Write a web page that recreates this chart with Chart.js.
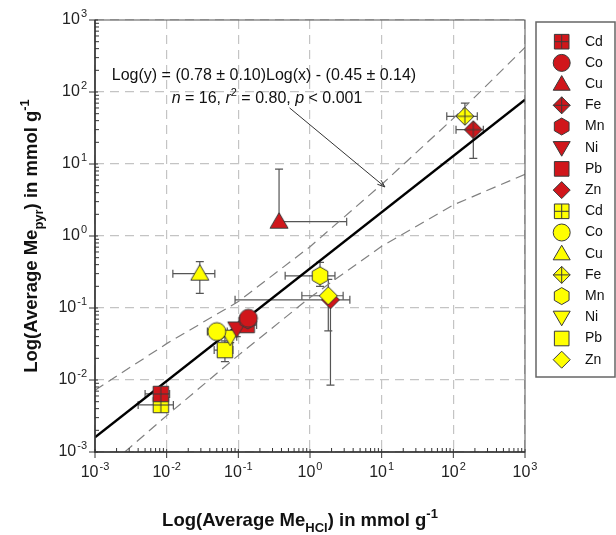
<!DOCTYPE html>
<html>
<head>
<meta charset="utf-8">
<script src="https://cdn.jsdelivr.net/npm/chart.js@4.4.1/dist/chart.umd.min.js"></script>
<style>
  html, body { margin: 0; padding: 0; background: #fff; }
  #wrap { width: 616px; height: 535px; }
</style>
</head>
<body>
<div id="wrap"><canvas id="chart" width="616" height="535"></canvas></div>
<script>
const elements = ['Cd', 'Co', 'Cu', 'Fe', 'Mn', 'Ni', 'Pb', 'Zn'];
const shapes = ['squareCross', 'circle', 'triangle', 'diamondCross', 'hexagon', 'triangleDown', 'square', 'diamond'];

// red series (x = Me_HCl, y = Me_pyr, mmol/g)
const redX   = [0.0083, 0.138, 0.37, 190, 0.135, 0.095, 0.131, 1.93];
const redY   = [0.0064, 0.072, 1.58, 30, 0.068, 0.052, 0.058, 0.13];
const redXLo = [0.005, 0.11, null, 109, null, null, 0.10, 0.09];
const redXHi = [0.011, 0.17, 3.25, 262, null, null, 0.18, 3.6];
const redYLo = [null, null, null, 12, null, 0.04, null, 0.0085];
const redYHi = [null, null, 8.5, null, null, 0.062, null, null];

// yellow series
const yelX   = [0.0083, 0.050, 0.029, 145, 1.38, 0.077, 0.065, 1.80];
const yelY   = [0.0045, 0.047, 0.30, 46, 0.28, 0.040, 0.026, 0.148];
const yelXLo = [0.004, 0.037, 0.0122, 81, 0.45, 0.065, 0.046, 0.77];
const yelXHi = [0.0124, 0.07, 0.047, 216, 2.23, 0.095, 0.084, 2.9];
const yelYLo = [null, null, 0.16, null, 0.2, 0.033, 0.018, 0.048];
const yelYHi = [null, null, 0.44, 70, 0.43, 0.048, 0.035, 0.25];

// regression line and its bands
const fitX = [0.001, 1000];
const fitY = [0.0016, 78];
const upperX = [0.001, 0.01, 0.1, 1, 10, 100, 1000];
const upperY = [0.0072, 0.032, 0.123, 0.71, 5.2, 43, 417];
const lowerX = [0.0026, 0.01, 0.1, 1, 10, 100, 1000];
const lowerY = [0.001, 0.0032, 0.022, 0.14, 0.72, 2.7, 7.2];

// arrow from the equation to the fit
const arrowFrom = { x: 0.52, y: 60 };
const arrowTo = { x: 11.1, y: 4.8 };

const decades = [-3, -2, -1, 0, 1, 2, 3];

const RED = '#d0161b';
const YELLOW = '#ffff00';
const EDGE = '#3a3a3a';
const FONT = '"Liberation Sans", Arial, sans-serif';

function shapePath(ctx, shape, cx, cy, r) {
  ctx.beginPath();
  if (shape === 'circle') {
    ctx.arc(cx, cy, r, 0, Math.PI * 2);
  } else if (shape === 'square' || shape === 'squareCross') {
    const h = r * 0.86;
    ctx.rect(cx - h, cy - h, 2 * h, 2 * h);
  } else if (shape === 'triangle') {
    ctx.moveTo(cx, cy - r);
    ctx.lineTo(cx + r, cy + r * 0.72);
    ctx.lineTo(cx - r, cy + r * 0.72);
    ctx.closePath();
  } else if (shape === 'triangleDown') {
    ctx.moveTo(cx, cy + r);
    ctx.lineTo(cx + r, cy - r * 0.72);
    ctx.lineTo(cx - r, cy - r * 0.72);
    ctx.closePath();
  } else if (shape === 'diamond' || shape === 'diamondCross') {
    ctx.moveTo(cx, cy - r);
    ctx.lineTo(cx + r, cy);
    ctx.lineTo(cx, cy + r);
    ctx.lineTo(cx - r, cy);
    ctx.closePath();
  } else if (shape === 'hexagon') {
    for (let k = 0; k < 6; k++) {
      const a = -Math.PI / 2 + k * Math.PI / 3;
      const px = cx + r * Math.cos(a), py = cy + r * Math.sin(a);
      if (k === 0) ctx.moveTo(px, py); else ctx.lineTo(px, py);
    }
    ctx.closePath();
  }
}

function drawMarker(ctx, shape, cx, cy, r, fill) {
  shapePath(ctx, shape, cx, cy, r);
  ctx.fillStyle = fill;
  ctx.fill();
  ctx.lineWidth = 1;
  ctx.strokeStyle = EDGE;
  ctx.stroke();
  if (shape === 'squareCross' || shape === 'diamondCross') {
    const h = shape === 'squareCross' ? r * 0.86 : r;
    ctx.beginPath();
    ctx.moveTo(cx - h, cy); ctx.lineTo(cx + h, cy);
    ctx.moveTo(cx, cy - h); ctx.lineTo(cx, cy + h);
    ctx.stroke();
  }
}

function markerCanvas(shape, fill, r) {
  const size = Math.ceil(r * 2 + 4);
  const c = document.createElement('canvas');
  c.width = size; c.height = size;
  drawMarker(c.getContext('2d'), shape, size / 2, size / 2, r, fill);
  return c;
}

const datasets = [];
function addSeries(xs, ys, xlo, xhi, ylo, yhi, fill, baseOrder) {
  elements.forEach((el, i) => {
    datasets.push({
      label: el,
      data: [{ x: xs[i], y: ys[i] }],
      pointStyle: markerCanvas(shapes[i], fill, 9),
      showLine: false,
      order: el === 'Zn' ? (fill === YELLOW ? 0 : 3) : baseOrder,
      errX: [xlo[i], xhi[i]],
      errY: [ylo[i], yhi[i]]
    });
  });
}
addSeries(redX, redY, redXLo, redXHi, redYLo, redYHi, RED, 1);
addSeries(yelX, yelY, yelXLo, yelXHi, yelYLo, yelYHi, YELLOW, 2);

const lineSets = [
  { data: fitX.map((x, i) => ({ x, y: fitY[i] })), borderColor: '#000', borderWidth: 2.4, borderDash: [] },
  { data: upperX.map((x, i) => ({ x, y: upperY[i] })), borderColor: '#808080', borderWidth: 1.2, borderDash: [10, 6] },
  { data: lowerX.map((x, i) => ({ x, y: lowerY[i] })), borderColor: '#808080', borderWidth: 1.2, borderDash: [10, 6] }
];
lineSets.forEach(l => datasets.push(Object.assign({ showLine: true, pointRadius: 0, order: 10, isLine: true, fill: false }, l)));

function isMajor(v) {
  const l = Math.log10(v);
  return Math.abs(l - Math.round(l)) < 1e-6;
}

function drawPow(ctx, exp, x, y, align) {
  ctx.font = '16px ' + FONT;
  const bw = ctx.measureText('10').width;
  ctx.font = '11px ' + FONT;
  const ew = ctx.measureText(String(exp)).width;
  const total = bw + ew + 1;
  let left = x;
  if (align === 'center') left = x - total / 2;
  if (align === 'right') left = x - total;
  ctx.textAlign = 'left';
  ctx.textBaseline = 'middle';
  ctx.fillStyle = '#222';
  ctx.font = '16px ' + FONT;
  ctx.fillText('10', left, y);
  ctx.font = '11px ' + FONT;
  ctx.fillText(String(exp), left + bw + 1, y - 6);
}

// pieces: [text, kind] kind: n = normal, sub, sup, i = italic
function drawPieces(ctx, pieces, size, bold) {
  const w = bold ? 'bold ' : '';
  let total = 0;
  const widths = pieces.map(p => {
    const small = p[1] === 'sub' || p[1] === 'sup';
    ctx.font = (p[1] === 'i' ? 'italic ' : '') + w + (small ? Math.round(size * 0.7) : size) + 'px ' + FONT;
    const m = ctx.measureText(p[0]).width;
    total += m;
    return m;
  });
  let x = -total / 2;
  pieces.forEach((p, i) => {
    const small = p[1] === 'sub' || p[1] === 'sup';
    ctx.font = (p[1] === 'i' ? 'italic ' : '') + w + (small ? Math.round(size * 0.7) : size) + 'px ' + FONT;
    let dy = 0;
    if (p[1] === 'sub') dy = size * 0.3;
    if (p[1] === 'sup') dy = -size * 0.42;
    ctx.fillText(p[0], x, dy);
    x += widths[i];
  });
}

const decorPlugin = {
  id: 'decor',
  beforeDatasetsDraw(chart) {
    const { ctx, scales: { x, y } } = chart;
    ctx.save();
    ctx.strokeStyle = '#555';
    ctx.lineWidth = 1.2;
    const cap = 4;
    chart.data.datasets.forEach(ds => {
      if (!ds.errX) return;
      const px = x.getPixelForValue(ds.data[0].x);
      const py = y.getPixelForValue(ds.data[0].y);
      ds.errX.forEach(v => {
        if (v == null) return;
        const ex = x.getPixelForValue(v);
        ctx.beginPath();
        ctx.moveTo(px, py); ctx.lineTo(ex, py);
        ctx.moveTo(ex, py - cap); ctx.lineTo(ex, py + cap);
        ctx.stroke();
      });
      ds.errY.forEach(v => {
        if (v == null) return;
        const ey = y.getPixelForValue(v);
        ctx.beginPath();
        ctx.moveTo(px, py); ctx.lineTo(px, ey);
        ctx.moveTo(px - cap, ey); ctx.lineTo(px + cap, ey);
        ctx.stroke();
      });
    });
    ctx.restore();
  },
  afterDraw(chart) {
    const { ctx, chartArea: a, scales: { x, y } } = chart;
    ctx.save();

    // frame
    ctx.strokeStyle = '#555';
    ctx.lineWidth = 1;
    ctx.strokeRect(a.left, a.top, a.right - a.left, a.bottom - a.top);
    ctx.strokeStyle = '#333';
    ctx.lineWidth = 1.5;
    ctx.beginPath();
    ctx.moveTo(a.left, a.top); ctx.lineTo(a.left, a.bottom); ctx.lineTo(a.right, a.bottom);
    ctx.stroke();

    // ticks
    ctx.lineWidth = 1;
    ctx.strokeStyle = '#333';
    decades.forEach(d => {
      const v = Math.pow(10, d);
      const xp = x.getPixelForValue(v), yp = y.getPixelForValue(v);
      ctx.beginPath();
      ctx.moveTo(xp, a.bottom - 3); ctx.lineTo(xp, a.bottom + 6);
      ctx.moveTo(a.left - 6, yp); ctx.lineTo(a.left + 3, yp);
      ctx.stroke();
      if (d < 3) {
        for (let m = 2; m <= 9; m++) {
          const mv = m * v;
          const mx = x.getPixelForValue(mv), my = y.getPixelForValue(mv);
          ctx.beginPath();
          ctx.moveTo(mx, a.bottom); ctx.lineTo(mx, a.bottom - 4);
          ctx.moveTo(a.left, my); ctx.lineTo(a.left + 4, my);
          ctx.stroke();
        }
      }
      drawPow(ctx, d, xp, a.bottom + 21, 'center');
      drawPow(ctx, d, a.left - 8, yp, 'right');
    });

    // axis titles
    ctx.fillStyle = '#111';
    ctx.textAlign = 'left';
    ctx.textBaseline = 'alphabetic';
    ctx.save();
    ctx.translate(300, 526);
    drawPieces(ctx, [['Log(Average Me', 'n'], ['HCl', 'sub'], [') in mmol g', 'n'], ['-1', 'sup']], 18.5, true);
    ctx.restore();
    ctx.save();
    ctx.translate(37, (a.top + a.bottom) / 2);
    ctx.rotate(-Math.PI / 2);
    drawPieces(ctx, [['Log(Average Me', 'n'], ['pyr', 'sub'], [') in mmol g', 'n'], ['-1', 'sup']], 18.5, true);
    ctx.restore();

    // equation
    ctx.fillStyle = '#111';
    ctx.save();
    ctx.translate(264, 80);
    drawPieces(ctx, [['Log(y) = (0.78 \u00b1 0.10)Log(x) - (0.45 \u00b1 0.14)', 'n']], 16, false);
    ctx.restore();
    ctx.save();
    ctx.translate(267, 103);
    drawPieces(ctx, [['n', 'i'], [' = 16, ', 'n'], ['r', 'i'], ['2', 'sup'], [' = 0.80, ', 'n'], ['p', 'i'], [' < 0.001', 'n']], 16, false);
    ctx.restore();

    // arrow
    const x0 = x.getPixelForValue(arrowFrom.x), y0 = y.getPixelForValue(arrowFrom.y);
    const x1 = x.getPixelForValue(arrowTo.x), y1 = y.getPixelForValue(arrowTo.y);
    const ang = Math.atan2(y1 - y0, x1 - x0);
    ctx.strokeStyle = '#333';
    ctx.lineWidth = 1;
    ctx.beginPath();
    ctx.moveTo(x0, y0); ctx.lineTo(x1, y1);
    ctx.moveTo(x1, y1); ctx.lineTo(x1 - 8 * Math.cos(ang - 0.35), y1 - 8 * Math.sin(ang - 0.35));
    ctx.moveTo(x1, y1); ctx.lineTo(x1 - 8 * Math.cos(ang + 0.35), y1 - 8 * Math.sin(ang + 0.35));
    ctx.stroke();

    // legend
    const lx = 536, ly = 22, lw = 79, lh = 355;
    ctx.strokeStyle = '#666';
    ctx.lineWidth = 1.5;
    ctx.strokeRect(lx, ly, lw, lh);
    const entries = chart.data.datasets.filter(ds => ds.errX);
    entries.forEach((ds, i) => {
      const cy = 41.7 + i * 21.2;
      const isYellow = i >= elements.length;
      drawMarker(ctx, shapes[i % elements.length], 561.7, cy, 8.5, isYellow ? YELLOW : RED);
      ctx.fillStyle = '#111';
      ctx.font = '14px ' + FONT;
      ctx.textAlign = 'left';
      ctx.textBaseline = 'middle';
      ctx.fillText(ds.label, 585, cy);
    });

    ctx.restore();
  }
};

const gridColor = c => (c.tick && isMajor(c.tick.value) ? '#c4c4c4' : 'rgba(0,0,0,0)');

new Chart(document.getElementById('chart'), {
  type: 'scatter',
  data: { datasets },
  options: {
    responsive: false,
    devicePixelRatio: 1,
    animation: false,
    layout: { padding: { left: 95, right: 91, top: 20, bottom: 83 } },
    plugins: { legend: { display: false }, tooltip: { enabled: false } },
    scales: {
      x: {
        type: 'logarithmic', min: 0.001, max: 1000,
        ticks: { display: false },
        grid: { color: gridColor, drawTicks: false, lineWidth: 1.2 },
        border: { display: false, dash: [9, 6] }
      },
      y: {
        type: 'logarithmic', min: 0.001, max: 1000,
        ticks: { display: false },
        grid: { color: gridColor, drawTicks: false, lineWidth: 1.2 },
        border: { display: false, dash: [9, 6] }
      }
    }
  },
  plugins: [decorPlugin]
});
</script>
</body>
</html>
